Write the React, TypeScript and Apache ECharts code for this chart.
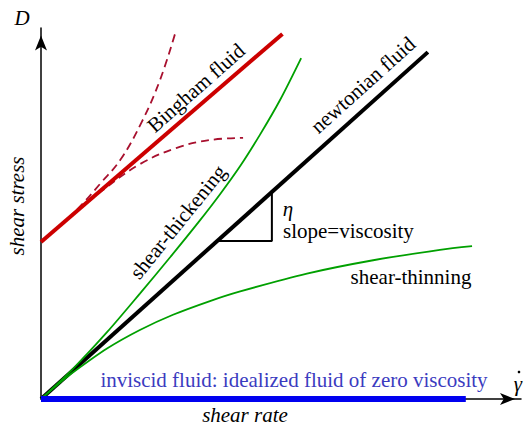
import React, { useEffect, useRef } from "react";
import * as echarts from "echarts";

// ---- data (abstract units: shear rate 0..10, shear stress 0..10) ----
const newtonianX = [0, 8.06];
const viscosity = 1.16;
const binghamX = [0, 5.03];
const binghamY = [4.23, 9.84];
const plasticUpX = [0.56, 0.88, 1.23, 1.65, 2.1, 2.48, 2.81];
const plasticUpY = [4.86, 5.28, 5.8, 6.44, 7.47, 8.6, 9.92];
const plasticDownX = [0.56, 1.29, 2.06, 2.83, 3.52, 4.21];
const plasticDownY = [4.86, 5.63, 6.33, 6.77, 6.98, 7.04];
const thickeningX = [0, 0.67, 1.375, 2.06, 2.69, 3.29, 3.73, 4.15, 4.56, 4.98, 5.42];
const thickeningY = [0, 0.82, 1.8, 2.84, 3.82, 4.78, 5.52, 6.28, 7.12, 8.06, 9.19];
const thinningX = [0, 0.35, 0.67, 1.375, 2.06, 2.75, 3.52, 4.15, 5.54, 6.92, 8.31, 8.98];
const thinningY = [0, 0.39, 0.72, 1.36, 1.86, 2.27, 2.64, 2.9, 3.38, 3.74, 4.02, 4.12];
const inviscidX = [0, 8.85];
const slopeTriangleX = [3.67, 4.81];

const zip = (xs: number[], ys: number[]) => xs.map((x, i) => [x, ys[i]]);

const SERIF = "'Liberation Serif', 'Times New Roman', serif";
const FS = 21;

export default function App() {
  const ref = useRef<HTMLDivElement>(null);
  useEffect(() => {
    if (!ref.current) return;
    const chart = echarts.init(ref.current, undefined, { renderer: "svg" });
    const lineBase = { type: "line", symbol: "none", showSymbol: false, silent: true };
    const txt = (text: string, x: number, y: number, opts: any = {}) => ({
      type: "text",
      x,
      y,
      rotation: opts.rotation || 0,
      style: {
        text,
        fill: opts.fill || "#000",
        font: `${opts.italic ? "italic " : ""}${opts.size || FS}px ${SERIF}`,
        align: opts.align || "center",
        verticalAlign: "middle",
      },
      z: 100,
    });
    const deg = (d: number) => (d * Math.PI) / 180;
    const [ta, tb] = slopeTriangleX;
    chart.setOption({
      animation: false,
      grid: { left: 41, right: 4, top: 28, bottom: 28 },
      xAxis: {
        type: "value",
        min: 0,
        max: 10,
        axisLine: {
          show: true,
          onZero: false,
          lineStyle: { color: "#000", width: 1.5 },
          symbol: ["none", "arrow"],
          symbolSize: [9, 15],
          symbolOffset: [0, -6],
        },
        axisTick: { show: false },
        axisLabel: { show: false },
        splitLine: { show: false },
      },
      yAxis: {
        type: "value",
        min: 0,
        max: 10,
        axisLine: {
          show: true,
          onZero: false,
          lineStyle: { color: "#000", width: 1.5 },
          symbol: ["none", "arrow"],
          symbolSize: [9, 15],
          symbolOffset: [0, -7.5],
        },
        axisTick: { show: false },
        axisLabel: { show: false },
        splitLine: { show: false },
      },
      series: [
        {
          ...lineBase,
          name: "newtonian",
          data: newtonianX.map((x) => [x, viscosity * x]),
          lineStyle: { color: "#000", width: 4 },
          z: 2,
        },
        {
          ...lineBase,
          name: "triangle",
          data: [
            [ta, viscosity * ta],
            [tb, viscosity * ta],
            [tb, viscosity * tb],
          ],
          lineStyle: { color: "#000", width: 2 },
          z: 2,
        },
        {
          ...lineBase,
          name: "thinning",
          smooth: 0.3,
          data: zip(thinningX, thinningY),
          lineStyle: { color: "#00a000", width: 1.8 },
          z: 3,
        },
        {
          ...lineBase,
          name: "thickening",
          smooth: 0.3,
          data: zip(thickeningX, thickeningY),
          lineStyle: { color: "#00a000", width: 1.8 },
          z: 3,
        },
        {
          ...lineBase,
          name: "plasticUp",
          smooth: 0.4,
          data: zip(plasticUpX, plasticUpY),
          lineStyle: { color: "#a8102e", width: 1.8, type: [8, 5] },
          z: 3,
        },
        {
          ...lineBase,
          name: "plasticDown",
          smooth: 0.4,
          data: zip(plasticDownX, plasticDownY),
          lineStyle: { color: "#a8102e", width: 1.8, type: [8, 5] },
          z: 3,
        },
        {
          ...lineBase,
          name: "bingham",
          data: zip(binghamX, binghamY),
          lineStyle: { color: "#cc0000", width: 4 },
          z: 4,
        },
        {
          ...lineBase,
          name: "inviscid",
          data: inviscidX.map((x) => [x, 0]),
          lineStyle: { color: "#0000f0", width: 6 },
          z: 5,
        },
      ],
      graphic: [
        txt("D", 22, 18, { italic: true }),
        txt("γ", 518, 384, { italic: true }),
        { type: "circle", shape: { cx: 519, cy: 372, r: 1.3 }, style: { fill: "#000" }, z: 100 },
        txt("shear rate", 245, 415, { italic: true }),
        txt("shear stress", 17, 206, { italic: true, rotation: deg(90) }),
        txt("inviscid fluid: idealized fluid of zero viscosity", 294, 380, { fill: "#3b3bbf" }),
        txt("newtonian fluid", 363, 85, { rotation: deg(41.9) }),
        txt("Bingham fluid", 196, 88, { rotation: deg(41.5) }),
        txt("shear-thickening", 178, 222, { rotation: deg(51) }),
        txt("shear-thinning", 411, 277),
        txt("η", 288, 209, { italic: true }),
        txt("slope=viscosity", 283, 231, { align: "left" }),
      ],
    });
    return () => chart.dispose();
  }, []);
  return (
    <div
      ref={ref}
      style={{ position: "absolute", left: 0, top: 0, width: 525, height: 427, background: "#fff" }}
    />
  );
}
